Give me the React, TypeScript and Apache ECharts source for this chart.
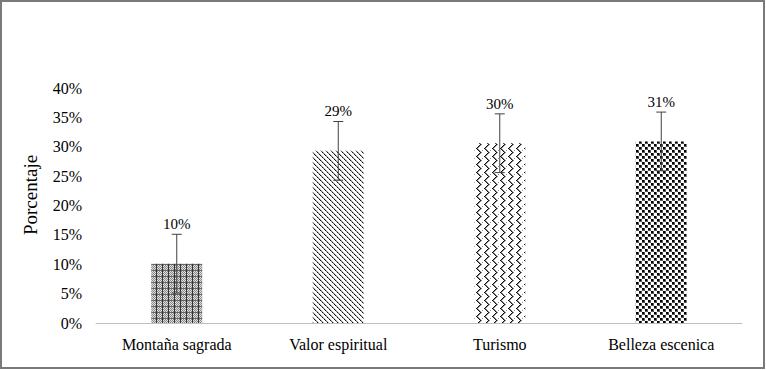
import React, { useEffect, useRef } from "react";
import * as echarts from "echarts";

const categories = ["Montaña sagrada", "Valor espiritual", "Turismo", "Belleza escenica"];
const values = [10.1, 29.3, 30.6, 30.9];
const errors = [5, 5, 5, 5];
const valueLabels = ["10%", "29%", "30%", "31%"];
const yTicks = [0, 5, 10, 15, 20, 25, 30, 35, 40];

function makeTile(size: number, fn: (x: number, y: number) => string | null): HTMLCanvasElement {
  const c = document.createElement("canvas");
  c.width = size;
  c.height = size;
  const ctx = c.getContext("2d")!;
  ctx.fillStyle = "#ffffff";
  ctx.fillRect(0, 0, size, size);
  for (let y = 0; y < size; y++) {
    for (let x = 0; x < size; x++) {
      const col = fn(x, y);
      if (col) {
        ctx.fillStyle = col;
        ctx.fillRect(x, y, 1, 1);
      }
    }
  }
  return c;
}

function patterns() {
  // plaid / fine grid
  const p1 = makeTile(6, (x, y) => {
    if (x === 0) return "#333";
    if (y === 0) return "#666";
    if ((x + y) % 2 === 0) return "#888";
    return "#e0e0e0";
  });
  // diagonal dashed "\"
  const p2 = makeTile(5, (x, y) => {
    if (x === y) return (x % 2 === 0) ? "#111" : "#666";
    if (x === (y + 1) % 5) return "#bbbbbb";
    return null;
  });
  // weave
  const p3 = makeTile(8, (x, y) => {
    const a = (x + y) % 8;
    const b = (x - y + 16) % 8;
    if (y < 4 && a < 2) return a === 0 ? "#111" : "#888";
    if (y >= 4 && b < 2) return b === 0 ? "#111" : "#888";
    if ((x === 6 && y === 2) || (x === 2 && y === 6)) return "#999";
    return null;
  });
  // checkerboard
  const p4 = makeTile(6, (x, y) => {
    const v = (Math.floor(x / 3) + Math.floor(y / 3)) % 2 === 0;
    if (v) return x % 3 === 2 || y % 3 === 2 ? "#555" : "#000";
    return null;
  });
  return [p1, p2, p3, p4];
}

export default function App() {
  const ref = useRef<HTMLDivElement>(null);
  useEffect(() => {
    if (!ref.current) return;
    const chart = echarts.init(ref.current, undefined, { renderer: "svg" });
    const pats = patterns();
    const font = "'Liberation Serif', 'Times New Roman', serif";
    chart.setOption({
      animation: false,
      backgroundColor: "#ffffff",
      grid: { left: 96, right: 24, top: 88, bottom: 47 },
      graphic: [
        {
          type: "rect",
          shape: { x: 1, y: 1, width: 763, height: 367 },
          style: { fill: "none", stroke: "#7a7a7a", lineWidth: 2 },
          silent: true,
        },
        {
          type: "text",
          x: 30,
          y: 195,
          rotation: Math.PI / 2,
          style: {
            text: "Porcentaje",
            font: `19px ${font}`,
            fill: "#000",
            align: "center",
            verticalAlign: "middle",
          },
        },
      ],
      xAxis: {
        type: "category",
        data: categories,
        axisLine: { lineStyle: { color: "#bfbfbf", width: 1 } },
        axisTick: { show: false },
        axisLabel: { color: "#000", fontFamily: font, fontSize: 16, margin: 13 },
      },
      yAxis: {
        type: "value",
        min: 0,
        max: 40,
        interval: 5,
        axisLine: { show: false },
        axisTick: { show: false },
        splitLine: { show: false },
        axisLabel: {
          color: "#000",
          fontFamily: font,
          fontSize: 16,
          margin: 14,
          formatter: (v: number) => (yTicks.includes(v) ? `${v}%` : ""),
        },
      },
      series: [
        {
          type: "bar",
          barWidth: 51,
          data: values.map((v, i) => ({
            value: v,
            itemStyle: { color: { image: pats[i], repeat: "repeat" } },
          })),
          label: {
            show: true,
            position: "top",
            distance: 32,
            color: "#000",
            fontFamily: font,
            fontSize: 15,
            formatter: (p: any) => valueLabels[p.dataIndex],
          },
        },
        {
          type: "custom",
          data: values.map((v, i) => [i, v - errors[i], v + errors[i]]),
          z: 5,
          renderItem: (params: any, api: any) => {
            const x = api.value(0);
            const lo = api.coord([x, api.value(1)]);
            const hi = api.coord([x, api.value(2)]);
            const w = 5;
            const style = { stroke: "#404040", lineWidth: 1 };
            return {
              type: "group",
              children: [
                { type: "line", shape: { x1: hi[0], y1: hi[1], x2: lo[0], y2: lo[1] }, style },
                { type: "line", shape: { x1: hi[0] - w, y1: hi[1], x2: hi[0] + w, y2: hi[1] }, style },
                { type: "line", shape: { x1: lo[0] - w, y1: lo[1], x2: lo[0] + w, y2: lo[1] }, style },
              ],
            };
          },
        },
      ],
    });
    return () => chart.dispose();
  }, []);
  return (
    <div
      ref={ref}
      style={{ position: "absolute", left: 0, top: 0, width: 766, height: 370 }}
    />
  );
}
